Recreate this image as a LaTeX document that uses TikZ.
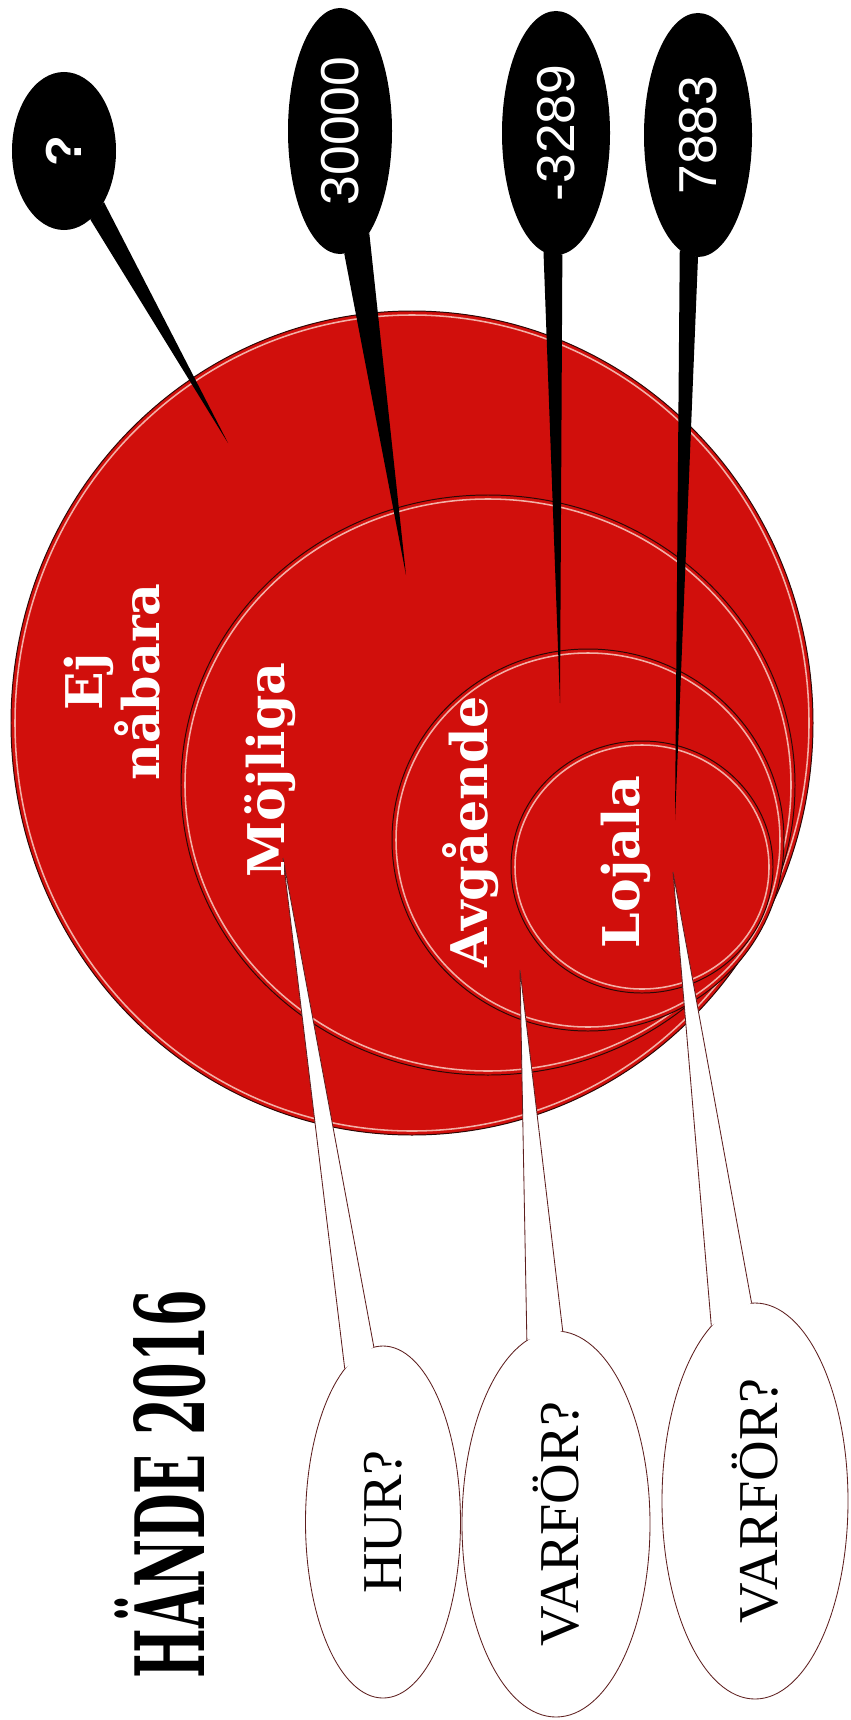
\documentclass[tikz,border=0pt]{standalone}
\usepackage{fontspec}
\setmainfont{Liberation Serif}
\setsansfont{Liberation Sans}
\newfontfamily\slabfont{DejaVu Serif}
\usetikzlibrary{shapes.geometric}
\definecolor{ringred}{HTML}{D10F0C}
\definecolor{ringedge}{HTML}{2A0806}
\definecolor{tagedge}{HTML}{5E1F1F}
\definecolor{shine}{HTML}{FFE6DC}
\tikzset{
  % röda ringar
  ring/.style={draw=ringedge, line width=0.7pt, fill=ringred},
  ringshine/.style={draw=shine, line width=1.1pt, opacity=0.75},
  % etiketter i ringarna
  ringlbl/.style={text=white, rotate=90, align=center, inner sep=0pt,
    font=\slabfont\bfseries\fontsize{36}{38}\selectfont},
  % svarta ballonger
  darktag/.style={ellipse, fill=black, inner sep=0pt, text=white,
    font=\sffamily\fontsize{38}{40}\selectfont},
  darktail/.style={fill=black},
  % vita ballonger
  lighttag/.style={ellipse, draw=tagedge, line width=0.6pt, fill=white, inner sep=0pt,
    font=\rmfamily\fontsize{40}{42}\selectfont},
  lighttail/.style={draw=tagedge, line width=0.6pt},
  % rubrik
  titlelbl/.style={rotate=90, inner sep=0pt, font=\slabfont\bfseries\fontsize{68}{70}\selectfont},
}

\begin{document}
\begin{tikzpicture}[x=0.25mm, y=-0.25mm]
  \useasboundingbox (0,0) rectangle (850,1720);
  % ringarna, yttersta först
  \draw[ring] (412,723) ellipse [x radius=401, y radius=412];
  \draw[ringshine] (412,723) ellipse [x radius=397, y radius=408];
  \draw[ring] (488,785) ellipse [x radius=307, y radius=290];
  \draw[ringshine] (488,785) ellipse [x radius=303, y radius=286];
  \draw[ring] (588,840) ellipse [x radius=196, y radius=191];
  \draw[ringshine] (588,840) ellipse [x radius=192, y radius=187];
  \draw[ring] (642,867) ellipse [x radius=131, y radius=126];
  \draw[ringshine] (642,867) ellipse [x radius=127, y radius=122];

  % svarta ballonger med spetsar
  \node[darktag, minimum width=26mm, minimum height=39.5mm] (vq) at (64,151) {\rotatebox{90}{\bfseries\fontsize{36}{38}\selectfont ?}};
  \node[darktag, minimum width=26mm, minimum height=61.5mm] (v30000) at (340,131) {\rotatebox{90}{30000}};
  \node[darktag, minimum width=27mm, minimum height=61mm] (v3289) at (556,133) {\rotatebox{90}{-3289}};
  \node[darktag, minimum width=27mm, minimum height=61mm] (v7883) at (698,135) {\rotatebox{90}{7883}};
  \coordinate (tq) at (228,443);
  \coordinate (t30000) at (406,575);
  \coordinate (t3289) at (560,703);
  \coordinate (t7883) at (675,820);
  \fill[darktail] (vq.291) -- (tq) -- (vq.308) -- cycle;
  \fill[darktail] (v30000.272) -- (t30000) -- (v30000.286) -- cycle;
  \fill[darktail] (v3289.264) -- (t3289) -- (v3289.273) -- cycle;
  \fill[darktail] (v7883.261) -- (t7883) -- (v7883.270) -- cycle;

  % vita ballonger med spetsar
  \node[lighttag, minimum width=38.75mm, minimum height=88mm] (hur) at (383,1522) {\rotatebox{90}{HUR?}};
  \node[lighttag, minimum width=47mm, minimum height=96.5mm] (why1) at (556,1524) {\rotatebox{90}{VARFÖR?}};
  \node[lighttag, minimum width=46.5mm, minimum height=99mm] (why2) at (755,1501) {\rotatebox{90}{VARFÖR?}};
  \coordinate (thur) at (283,858);
  \coordinate (twhy1) at (520,970);
  \coordinate (twhy2) at (673,872);
  \fill[white] (hur.104) -- (thur) -- (hur.93) -- cycle;
  \draw[lighttail] (hur.104) -- (thur) -- (hur.93);
  \fill[white] (why1.99) -- (twhy1) -- (why1.88) -- cycle;
  \draw[lighttail] (why1.99) -- (twhy1) -- (why1.88);
  \fill[white] (why2.104) -- (twhy2) -- (why2.91) -- cycle;
  \draw[lighttail] (why2.104) -- (twhy2) -- (why2.91);

  % etiketter
  \node[ringlbl] (ejnabara) at (112,682) {Ej\\nåbara};
  \node[ringlbl] (mojliga) at (270,770) {Möjliga};
  \node[ringlbl] (avgaende) at (471,832) {Avgående};
  \node[ringlbl] (lojala) at (626,862) {Lojala};
  \node[titlelbl] (title) at (160,1484) {\scalebox{0.55}[1]{HÄNDE 2016}};
\end{tikzpicture}
\end{document}
